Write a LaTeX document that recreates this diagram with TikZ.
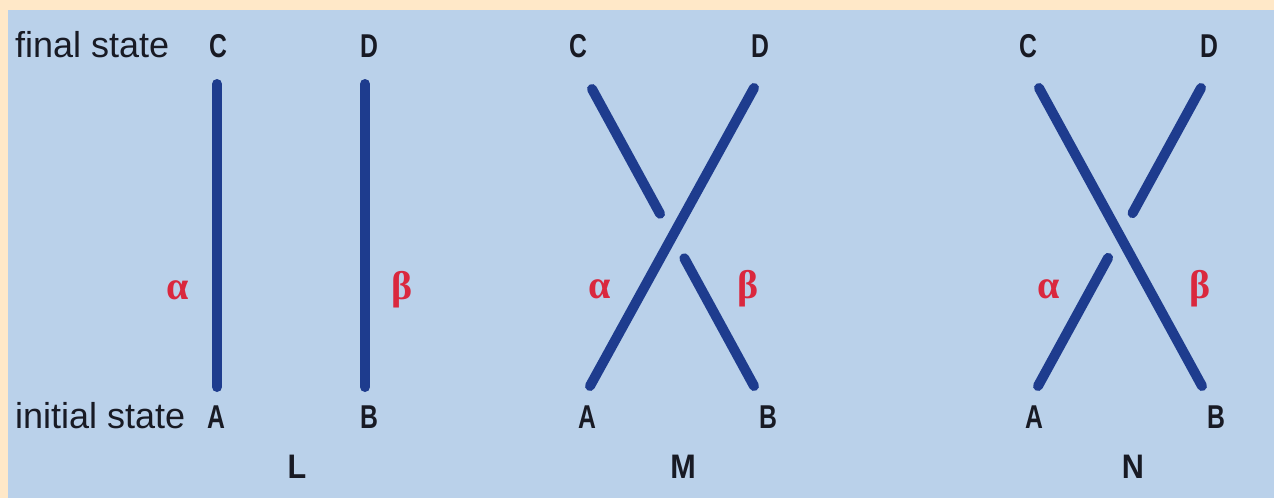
\documentclass[tikz,border=0pt]{standalone}
\usepackage{fontspec}
\setmainfont{Liberation Sans}
\newfontfamily\greekfont{Liberation Serif}
\usetikzlibrary{calc}
\definecolor{framecol}{RGB}{255,232,200}
\definecolor{panelcol}{RGB}{186,209,234}
\definecolor{strandcol}{RGB}{30,60,142}
\definecolor{greekcol}{RGB}{218,40,62}
\definecolor{textcol}{RGB}{24,26,36}
\tikzset{
  strand/.style={draw=strandcol, line width=10pt, line cap=round},
  lbl/.style={anchor=base, inner sep=0pt, text=textcol, font=\fontsize{33}{33}\selectfont\bfseries},
  side/.style={anchor=base west, inner sep=0pt, text=textcol, font=\fontsize{36}{36}\selectfont},
  panel/.style={anchor=base, inner sep=0pt, text=textcol, font=\fontsize{34}{34}\selectfont\bfseries},
  greek/.style={anchor=base, inner sep=0pt, text=greekcol, font=\fontsize{40}{40}\selectfont\greekfont\bfseries}
}
\begin{document}
\begin{tikzpicture}[x=1pt, y=-1pt]
\useasboundingbox (0,0) rectangle (1274,498);
\fill[framecol] (0,0) rectangle (1274,498);
\fill[panelcol] (8,10) rectangle (1274,498);

% side labels
\node[side] (fs) at (15,57) {final state};
\node[side] (is) at (15,428) {initial state};

% Panel L
\node[lbl] (LC) at (218,57) {\scalebox{0.75}[1]{C}};
\node[lbl] (LD) at (369,57) {\scalebox{0.75}[1]{D}};
\node[lbl] (LA) at (216,428) {\scalebox{0.75}[1]{A}};
\node[lbl] (LB) at (369,428) {\scalebox{0.75}[1]{B}};
\node[panel] (Lname) at (297,478) {\scalebox{0.9}[1]{L}};
\coordinate (La1) at (217,387); \coordinate (La2) at (217,84);
\coordinate (Lb1) at (365,387); \coordinate (Lb2) at (365,84);
\draw[strand] (La1) -- (La2);
\draw[strand] (Lb1) -- (Lb2);
\node[greek] (Lal) at (178,299) {α};
\node[greek] (Lbe) at (402,299) {β};

% Panel M
\node[lbl] (MC) at (578,57) {\scalebox{0.75}[1]{C}};
\node[lbl] (MD) at (760,57) {\scalebox{0.75}[1]{D}};
\node[lbl] (MA) at (587,428) {\scalebox{0.75}[1]{A}};
\node[lbl] (MB) at (768,428) {\scalebox{0.75}[1]{B}};
\node[panel] (Mname) at (683,478) {\scalebox{0.9}[1]{M}};
\coordinate (Ma) at (590,386); \coordinate (Md) at (754,88);
\coordinate (Mc) at (592,89); \coordinate (Mb) at (754,386);
\draw[strand] (Ma) -- (Md);
\draw[strand] (Mc) -- ($(Mc)!0.42!(Mb)$);
\draw[strand] ($(Mc)!0.57!(Mb)$) -- (Mb);
\node[greek] (Mal) at (600,298) {α};
\node[greek] (Mbe) at (748,298) {β};

% Panel N
\node[lbl] (NC) at (1028,57) {\scalebox{0.75}[1]{C}};
\node[lbl] (ND) at (1209,57) {\scalebox{0.75}[1]{D}};
\node[lbl] (NA) at (1034,428) {\scalebox{0.75}[1]{A}};
\node[lbl] (NB) at (1216,428) {\scalebox{0.75}[1]{B}};
\node[panel] (Nname) at (1133,478) {\scalebox{0.9}[1]{N}};
\coordinate (Nc) at (1039,88); \coordinate (Nb) at (1202,386);
\coordinate (Na) at (1038,386); \coordinate (Nd) at (1201,88);
\draw[strand] (Nc) -- (Nb);
\draw[strand] (Na) -- ($(Na)!0.43!(Nd)$);
\draw[strand] ($(Na)!0.58!(Nd)$) -- (Nd);
\node[greek] (Nal) at (1049,298) {α};
\node[greek] (Nbe) at (1200,298) {β};
\end{tikzpicture}
\end{document}
